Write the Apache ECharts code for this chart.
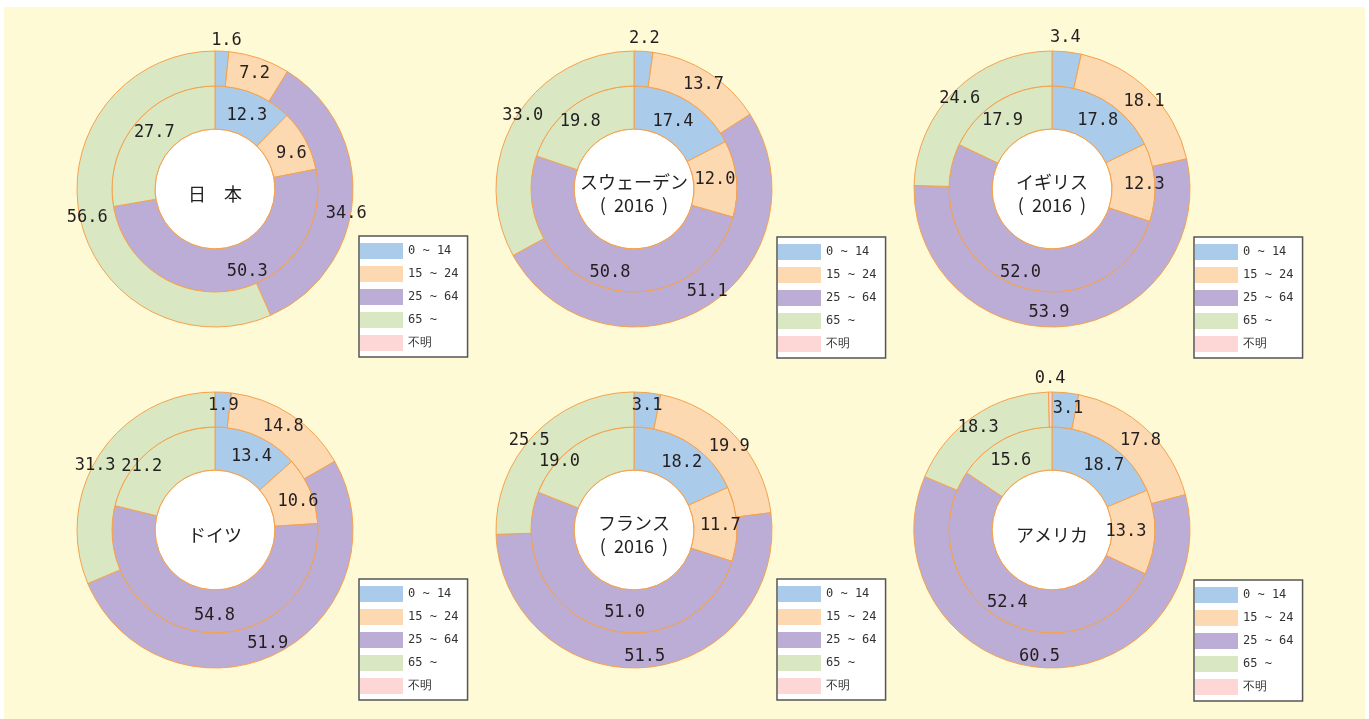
<!DOCTYPE html>
<html>
<head>
<meta charset="utf-8">
<script src="https://cdn.jsdelivr.net/npm/echarts@6/dist/echarts.min.js"></script>
<style>html,body{margin:0;padding:0;background:#fff}#c{width:1369px;height:719px}</style>
</head>
<body>
<div id="c"></div>
<script>
// ---- data ----
const countries = ['日　本', 'スウェーデン\n(  2016  )', 'イギリス\n(  2016  )', 'ドイツ', 'フランス\n(  2016  )', 'アメリカ'];
const ageGroups = ['0 ~ 14', '15 ~ 24', '25 ~ 64', '65 ~', '不明'];
const innerValues = [
  [12.3, 9.6, 50.3, 27.7],
  [17.4, 12.0, 50.8, 19.8],
  [17.8, 12.3, 52.0, 17.9],
  [13.4, 10.6, 54.8, 21.2],
  [18.2, 11.7, 51.0, 19.0],
  [18.7, 13.3, 52.4, 15.6]
];
const outerValues = [
  [1.6, 7.2, 34.6, 56.6],
  [2.2, 13.7, 51.1, 33.0],
  [3.4, 18.1, 53.9, 24.6],
  [1.9, 14.8, 51.9, 31.3],
  [3.1, 19.9, 51.5, 25.5],
  [3.1, 17.8, 60.5, 18.3, 0.4]
];
// outer-ring slices whose value label sits outside the ring
const outsideLabels = [[0], [0], [0], [], [], [4]];

// ---- layout & style ----
const centers = [[215, 189], [634, 189], [1052, 189], [215, 530], [634, 530], [1052, 530]];
const legendPos = [[359, 236], [777, 237], [1194, 237], [359, 579], [777, 579], [1194, 580]];
// small label nudges [dx, dy] relative to the slice centre
const innerNudge = [
  [[0, 4.5], [2, 5], [17, -1], [4, -2.5]],
  [[-5, 5], [-3, -1], [1, 3], [-4.5, 1]],
  [[1, 3], [8, 1.5], [0, 5], [-4.5, 3]],
  [[2, 3.5], [5, 4], [7, 1], [-21, 3]],
  [[2, 4], [2, 0], [19, 3], [-27, 1]],
  [[5, 6], [-10.5, 0], [-3, -1], [-1.5, 5]]
];
const outerNudge = [
  [[4, 0], [0, 2], [8, 16], [-7, 3]],
  [[0, -2], [3, 0], [10, -3.5], [-5, -11]],
  [[-2.5, -3], [5, 0], [-15, 1], [-6, -2]],
  [[1, -1.5], [0, 0], [-2, 3], [-17, 4]],
  [[1, -2], [5, 1], [1, 3], [-16, -3]],
  [[4, 1], [4, 1], [-4, 3], [-4, 0], [0, -2]]
];
const colors = ['#abcbea', '#fdd9b1', '#bbadd5', '#d9e8c2', '#fdd6d6'];
const ORANGE = '#f5a24c';
const R_HOLE = 60, R_MID = 103, R_OUT = 138;
const valueFont = { fontFamily: 'DejaVu Sans Mono', fontSize: 17, color: '#231f20' };
const nudgeLayout = table => p => {
  const n = table[p.dataIndex] || [0, 0];
  return { dx: n[0], dy: n[1] };
};

const series = [];
const legends = [];
countries.forEach((name, i) => {
  const center = centers[i];
  series.push({
    type: 'pie', name: 'hole' + i, center, radius: [0, R_HOLE], silent: true,
    data: [{ value: 1, name }],
    itemStyle: { color: '#fff', borderColor: ORANGE, borderWidth: 1 },
    label: { show: true, position: 'center', formatter: name, fontFamily: 'Noto Sans CJK JP', fontSize: 18, lineHeight: 23, color: '#222' },
    labelLayout: { dy: 5 },
    labelLine: { show: false }, emphasis: { disabled: true }
  });
  series.push({
    type: 'pie', name: 'inner' + i, center, radius: [R_HOLE, R_MID], silent: true,
    avoidLabelOverlap: false,
    data: innerValues[i].map((v, k) => ({ value: v, name: ageGroups[k], itemStyle: { color: colors[k] } })),
    itemStyle: { borderColor: ORANGE, borderWidth: 1 },
    label: Object.assign({ show: true, position: 'inside', formatter: p => p.value.toFixed(1) }, valueFont),
    labelLayout: nudgeLayout(innerNudge[i]),
    labelLine: { show: false }, emphasis: { disabled: true }
  });
  series.push({
    type: 'pie', name: 'outer' + i, center, radius: [R_MID, R_OUT], silent: true,
    avoidLabelOverlap: false,
    data: outerValues[i].map((v, k) => ({
      value: v, name: ageGroups[k], itemStyle: { color: colors[k] },
      label: { show: outsideLabels[i].indexOf(k) < 0 }
    })),
    itemStyle: { borderColor: ORANGE, borderWidth: 1 },
    label: Object.assign({ show: true, position: 'inside', formatter: p => p.value.toFixed(1) }, valueFont),
    labelLayout: nudgeLayout(outerNudge[i]),
    labelLine: { show: false }, emphasis: { disabled: true }
  });
  series.push({
    type: 'pie', name: 'outlabel' + i, center, radius: [R_OUT, 154], silent: true,
    avoidLabelOverlap: false, z: 1,
    data: outerValues[i].map((v, k) => ({
      value: v, name: ageGroups[k] + ' ',
      label: { show: outsideLabels[i].indexOf(k) >= 0 }
    })),
    itemStyle: { color: 'rgba(0,0,0,0)', borderWidth: 0 },
    label: Object.assign({ position: 'inside', formatter: p => p.value.toFixed(1) }, valueFont),
    labelLayout: nudgeLayout(outerNudge[i]),
    labelLine: { show: false }, emphasis: { disabled: true }
  });
  legends.push({
    orient: 'vertical', left: legendPos[i][0], top: legendPos[i][1],
    data: ageGroups, icon: 'rect', itemWidth: 43, itemHeight: 16, itemGap: 7,
    padding: [7, 9, 6, 1], backgroundColor: '#fff', borderColor: '#555', borderWidth: 1.5,
    itemStyle: { borderWidth: 0 }, selectedMode: false,
    textStyle: { fontFamily: 'DejaVu Sans Mono', fontSize: 12, color: '#333' }
  });
});

const chart = echarts.init(document.getElementById('c'), null, { renderer: 'canvas' });
chart.setOption({
  animation: false,
  backgroundColor: '#fff',
  graphic: [{ type: 'rect', shape: { x: 4, y: 7, width: 1361, height: 712 }, style: { fill: '#fffad6' }, z: -10, silent: true }],
  legend: legends,
  series
});
</script>
</body>
</html>
